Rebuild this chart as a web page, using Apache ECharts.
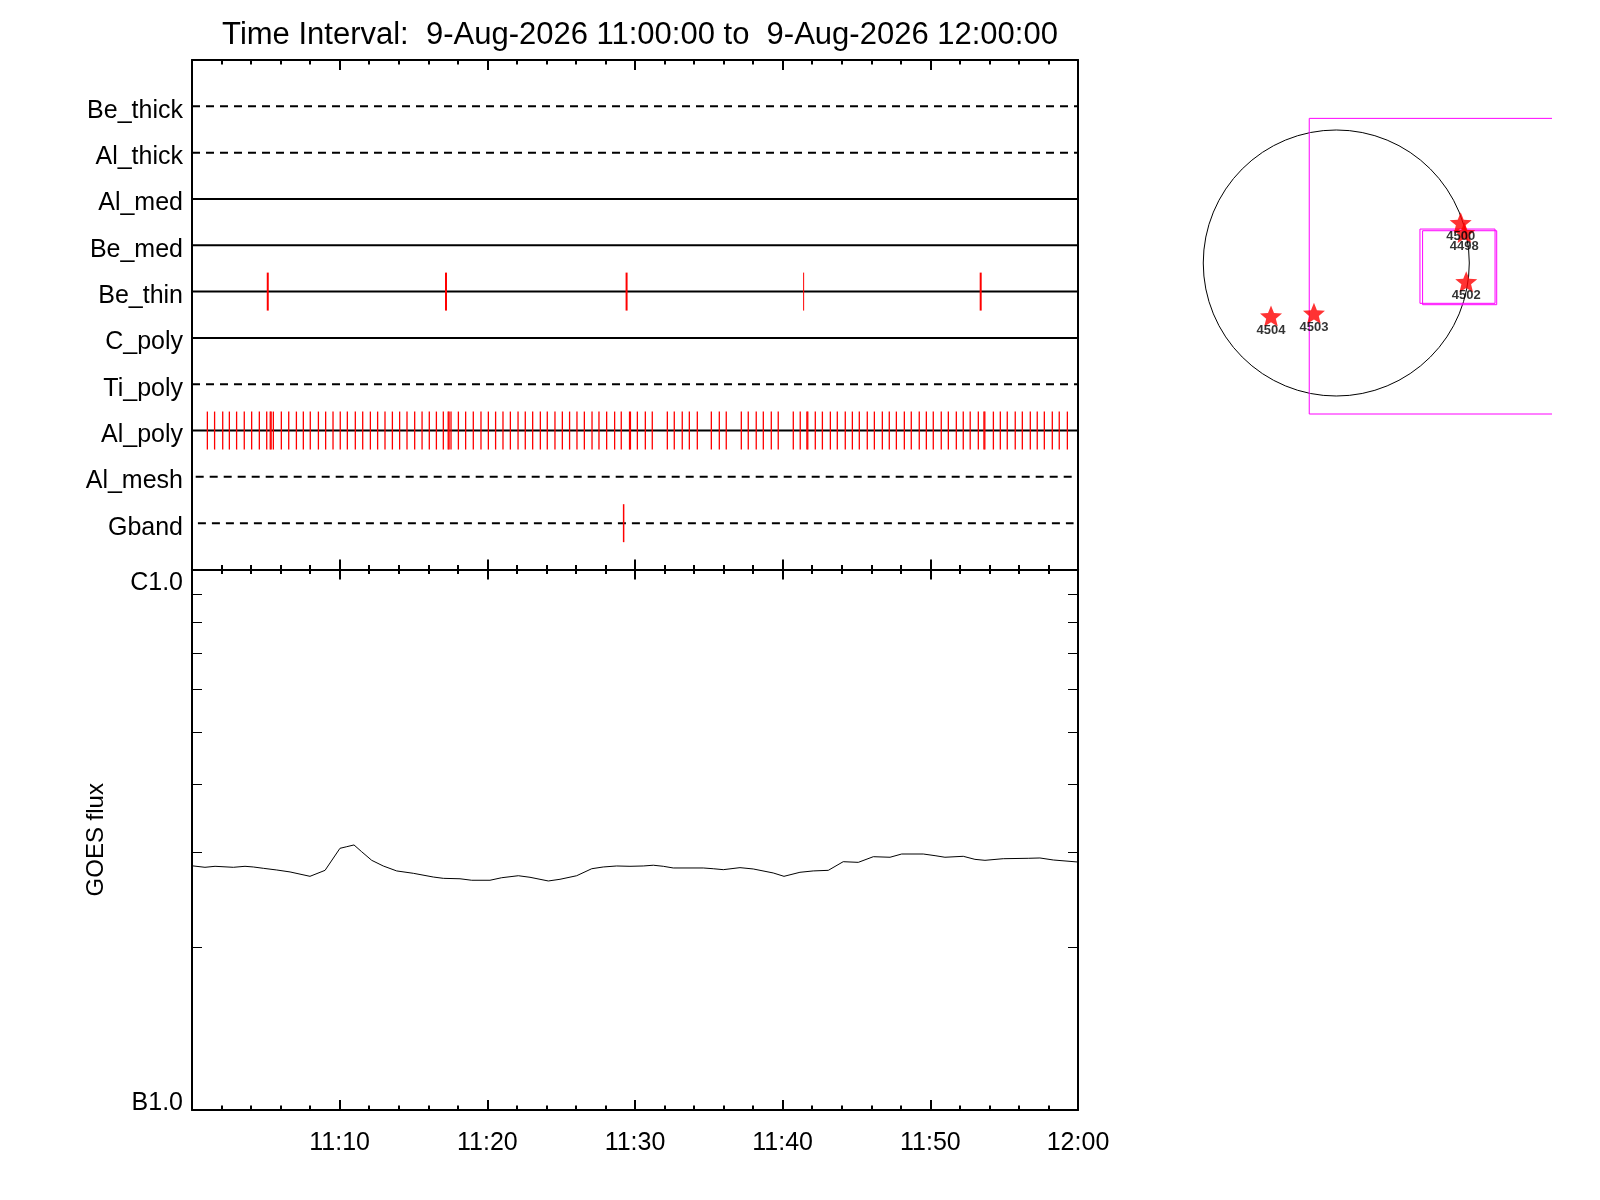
<!DOCTYPE html>
<html lang="en">

<head>
  <meta charset="utf-8">
  <title>Filter exposures and GOES flux</title>
  <style>
    * {
      margin: 0;
      padding: 0;
    }

    body {
      background: #fff;
    }

    #chart-container {
      width: 1600px;
      height: 1200px;
    }
  </style>
</head>

<body>
  <div id="chart-container"></div>
  <script src="https://fastly.jsdelivr.net/npm/echarts@6/dist/echarts.min.js"></script>
  <script>
    // time is in minutes after 11:00:00
    const titleText = 'Time Interval:  9-Aug-2026 11:00:00 to  9-Aug-2026 12:00:00';
    const tickLabels = ['11:00', '11:10', '11:20', '11:30', '11:40', '11:50', '12:00'];

    const rowNames = ['Be_thick', 'Al_thick', 'Al_med', 'Be_med', 'Be_thin', 'C_poly', 'Ti_poly', 'Al_poly', 'Al_mesh', 'Gband'];
    const rowDashed = [true, true, false, false, false, false, true, false, true, true];
    const rowStart = [0, 0, 0, 0, 0, 0, 0, 0, 0.25, 0.4];
    const rowEnd = [60, 60, 60, 60, 60, 60, 60, 60, 60, 59.7];

    const beThinTimes = [5.13, 17.20, 29.43, 41.42, 53.41];
    const beThinWidths = [2, 2, 2, 1, 2];
    const gbandTimes = [29.23];
    const alPolyTimes = [
      1.04, 1.53, 2.08, 2.53, 3.02, 3.54, 4.04, 4.56, 5.06, 5.30, 5.36, 5.51,
      6.05, 6.55, 7.07, 7.54, 8.01, 8.56, 9.05, 9.55, 10.04, 10.52, 11.06, 11.56,
      12.08, 12.57, 13.07, 13.57, 14.06, 14.56, 15.08, 15.58, 16.07, 16.55, 17.02,
      17.35, 17.41, 17.54, 18.04, 18.53, 19.05, 19.57, 20.07, 20.56, 21.06, 21.56,
      22.08, 22.57, 23.07, 23.59, 24.06, 24.58, 25.08, 25.57, 26.07, 26.57, 27.09,
      27.56, 28.08, 28.62, 29.07, 29.63, 29.69, 30.16, 30.70, 31.17,
      32.19, 32.66, 33.20, 33.68, 34.22,
      35.17, 35.71, 36.18,
      37.20, 37.67, 38.21, 38.69, 39.23, 39.70,
      40.72, 41.19, 41.64, 41.70, 42.21, 42.69, 43.23, 43.70, 44.24, 44.72, 45.19,
      45.73, 46.21, 46.75, 47.22, 47.70, 48.24, 48.71, 49.25, 49.73, 50.20, 50.74,
      51.22, 51.76, 52.23, 52.70, 53.25, 53.63, 53.69, 54.27, 54.74, 55.21, 55.75,
      56.23, 56.77, 57.24, 57.72, 58.26, 58.73, 59.28
    ];

    const goesTimes = [
      0.00, 0.88, 1.56, 2.80, 3.59, 4.15, 4.83, 5.74, 6.64, 7.99, 9.01, 10.02,
      10.48, 10.97, 11.49, 12.17, 12.95, 13.86, 14.99, 16.34, 17.02, 18.15, 18.94,
      20.18, 20.97, 22.10, 22.89, 24.13, 24.92, 26.05, 27.07, 27.85, 28.76, 29.66,
      30.56, 31.24, 31.92, 32.59, 34.62, 35.30, 35.98, 37.11, 38.01, 39.36, 40.09,
      41.17, 42.07, 43.09, 44.10, 45.12, 46.14, 47.27, 48.06, 49.52, 50.32, 50.99,
      52.23, 53.02, 53.70, 54.94, 56.63, 57.42, 58.33, 59.46, 60.00
    ];
    // flux in units of 1e-6 W/m^2
    const goesFlux = [
      0.2830, 0.2812, 0.2824, 0.2812, 0.2824, 0.2816, 0.2800, 0.2780, 0.2757, 0.2706,
      0.2776, 0.3049, 0.3070, 0.3093, 0.3005, 0.2897, 0.2828, 0.2769, 0.2741, 0.2698,
      0.2683, 0.2678, 0.2661, 0.2661, 0.2690, 0.2713, 0.2695, 0.2653, 0.2672, 0.2713,
      0.2795, 0.2816, 0.2828, 0.2824, 0.2828, 0.2837, 0.2824, 0.2804, 0.2804, 0.2795,
      0.2784, 0.2808, 0.2792, 0.2745, 0.2706, 0.2753, 0.2769, 0.2776, 0.2880, 0.2872,
      0.2942, 0.2935, 0.2976, 0.2976, 0.2955, 0.2935, 0.2947, 0.2909, 0.2897, 0.2917,
      0.2922, 0.2926, 0.2901, 0.2884, 0.2876
    ];
    const fluxLabelValues = [1e-7, 1e-6];
    const fluxLabelText = ['B1.0', 'C1.0'];
    const fluxMinorTicks = [2e-7, 3e-7, 4e-7, 5e-7, 6e-7, 7e-7, 8e-7, 9e-7];

    // solar disk map, arcsec
    const diskRadius = 960;
    const boxX1 = [-195, 604, 623];
    const boxY1 = [1044, 245, 233];
    const boxX2 = [1700, 1146, 1158];
    const boxY2 = [-1090, -291, -301];
    const arNames = ['4500', '4498', '4502', '4503', '4504'];
    const arX = [898, 924, 938, -161, -471];
    const arY = [291, 219, -135, -363, -383];

    const FONT = 'Liberation Sans';
    const STAR = 'path://M50,0 L62.9,32.2 L97.6,34.5 L70.9,56.8 L79.4,90.5 L50,72 L20.6,90.5 L29.1,56.8 L2.4,34.5 L37.1,32.2 Z';

    var dom = document.getElementById('chart-container');
    var myChart = echarts.init(dom, null, { renderer: 'canvas' });

    function tickSeries(times, row, widths) {
      return {
        type: 'custom',
        xAxisIndex: 0,
        yAxisIndex: 0,
        silent: true,
        z: 5,
        data: times.map(function (t, i) { return [t, row, widths ? widths[i] : 1.3]; }),
        renderItem: function (params, api) {
          var p1 = api.coord([api.value(0), api.value(1) - 0.41]);
          var p2 = api.coord([api.value(0), api.value(1) + 0.41]);
          return {
            type: 'line',
            shape: { x1: p1[0], y1: p1[1], x2: p2[0], y2: p2[1] },
            style: { stroke: '#ff0000', lineWidth: api.value(2) }
          };
        }
      };
    }

    var rowSeries = rowNames.map(function (name, i) {
      return {
        type: 'line',
        name: name,
        xAxisIndex: 0,
        yAxisIndex: 0,
        symbol: 'none',
        silent: true,
        lineStyle: { color: '#000', width: 2, type: rowDashed[i] ? [8, 6] : 'solid' },
        data: [[rowStart[i], i + 1], [rowEnd[i], i + 1]]
      };
    });

    var timeTick = {
      show: true, inside: true, length: 10,
      lineStyle: { color: '#000', width: 2 }
    };
    var timeMinor = {
      show: true, splitNumber: 5, length: 4.5,
      lineStyle: { color: '#000', width: 2 }
    };
    var blackLine = { show: true, onZero: false, lineStyle: { color: '#000', width: 2 } };

    function timeAxis(grid, pos, labels) {
      return {
        type: 'value', gridIndex: grid, position: pos,
        min: 0, max: 60, interval: 10,
        axisLine: blackLine, axisTick: timeTick, minorTick: timeMinor,
        splitLine: { show: false }, minorSplitLine: { show: false },
        axisLabel: labels ? {
          show: true, fontFamily: FONT, fontSize: 25, color: '#000', margin: 21,
          showMinLabel: false,
          formatter: function (v) { return tickLabels[Math.round(v / 10)]; }
        } : { show: false }
      };
    }

    function fluxAxis(pos, labels) {
      return {
        type: 'log', logBase: 10, gridIndex: 1, position: pos,
        min: 1e-7, max: 1e-6,
        axisLine: blackLine,
        axisTick: {
          show: true, inside: true, length: 10, customValues: fluxMinorTicks,
          lineStyle: { color: '#000', width: 1 }
        },
        splitLine: { show: false },
        name: labels ? 'GOES flux' : '',
        nameLocation: 'middle',
        nameGap: 84,
        nameTextStyle: { fontFamily: FONT, fontSize: 24, color: '#000' },
        axisLabel: labels ? {
          show: true, fontFamily: FONT, fontSize: 25, color: '#000', margin: 9,
          customValues: fluxLabelValues,
          rich: {
            lo: { fontFamily: FONT, fontSize: 25, color: '#000', padding: [0, 0, 14, 0] },
            hi: { fontFamily: FONT, fontSize: 25, color: '#000', padding: [27, 0, 0, 0] }
          },
          formatter: function (v) {
            var i = fluxLabelValues.findIndex(function (f) { return Math.abs(f - v) / f < 1e-6; });
            if (i < 0) return '';
            return '{' + (i === 0 ? 'lo' : 'hi') + '|' + fluxLabelText[i] + '}';
          }
        } : { show: false }
      };
    }

    var option = {
      animation: false,
      backgroundColor: '#fff',
      title: {
        text: titleText,
        left: 635,
        top: 15,
        textAlign: 'center',
        textStyle: { fontFamily: FONT, fontSize: 31, fontWeight: 'normal', color: '#000' }
      },
      grid: [
        { left: 192, top: 60, width: 886, height: 509.5, outerBoundsMode: 'none' },
        { left: 192, top: 569.5, width: 886, height: 540.5, outerBoundsMode: 'none' },
        { left: 1170, top: 96.75, width: 382, height: 332.5, outerBoundsMode: 'none' }
      ],
      xAxis: [
        timeAxis(0, 'bottom', false),
        timeAxis(0, 'top', false),
        timeAxis(1, 'bottom', true),
        timeAxis(1, 'top', false),
        { type: 'value', gridIndex: 2, min: -1200, max: 1557, show: false }
      ],
      yAxis: [
        {
          type: 'value', gridIndex: 0, position: 'left',
          min: 0, max: 11, interval: 1, inverse: true,
          axisLine: blackLine, axisTick: { show: false }, splitLine: { show: false },
          axisLabel: {
            fontFamily: FONT, fontSize: 25, color: '#000', margin: 9,
            rich: {
              r: { fontFamily: FONT, fontSize: 25, color: '#000', padding: [9, 0, 0, 0] }
            },
            formatter: function (v) { return rowNames[v - 1] ? '{r|' + rowNames[v - 1] + '}' : ''; }
          }
        },
        {
          type: 'value', gridIndex: 0, position: 'right',
          min: 0, max: 11, inverse: true,
          axisLine: blackLine, axisTick: { show: false }, splitLine: { show: false },
          axisLabel: { show: false }
        },
        fluxAxis('left', true),
        fluxAxis('right', false),
        { type: 'value', gridIndex: 2, min: -1200, max: 1200, show: false }
      ],
      series: rowSeries.concat([
        tickSeries(beThinTimes, 5, beThinWidths),
        tickSeries(alPolyTimes, 8),
        tickSeries(gbandTimes, 10, [1.5]),
        {
          type: 'line',
          name: 'GOES',
          xAxisIndex: 2,
          yAxisIndex: 2,
          symbol: 'none',
          silent: true,
          lineStyle: { color: '#000', width: 1 },
          data: goesTimes.map(function (t, i) { return [t, goesFlux[i] * 1e-6]; })
        },
        {
          type: 'custom',
          xAxisIndex: 4,
          yAxisIndex: 4,
          silent: true,
          data: [[0, 0, diskRadius]],
          renderItem: function (params, api) {
            var c = api.coord([api.value(0), api.value(1)]);
            var r = api.size([api.value(2), 0])[0];
            return {
              type: 'circle',
              shape: { cx: c[0], cy: c[1], r: r },
              style: { fill: 'none', stroke: '#000', lineWidth: 1 }
            };
          }
        },
        {
          type: 'custom',
          xAxisIndex: 4,
          yAxisIndex: 4,
          silent: true,
          clip: true,
          data: boxX1.map(function (x, i) { return [x, boxY1[i], boxX2[i], boxY2[i]]; }),
          renderItem: function (params, api) {
            var p1 = api.coord([api.value(0), api.value(1)]);
            var p2 = api.coord([api.value(2), api.value(3)]);
            return {
              type: 'rect',
              shape: {
                x: Math.min(p1[0], p2[0]), y: Math.min(p1[1], p2[1]),
                width: Math.abs(p2[0] - p1[0]), height: Math.abs(p2[1] - p1[1])
              },
              style: { fill: 'none', stroke: '#ff00ff', lineWidth: 1 }
            };
          }
        },
        {
          type: 'scatter',
          xAxisIndex: 4,
          yAxisIndex: 4,
          silent: true,
          symbol: STAR,
          symbolSize: 22,
          symbolKeepAspect: true,
          itemStyle: { color: '#ff0000' },
          label: {
            show: true, position: 'bottom', distance: -3,
            fontFamily: FONT, fontSize: 13, fontWeight: 'bold', color: '#000',
            formatter: function (p) { return p.name; }
          },
          data: arNames.map(function (n, i) { return { name: n, value: [arX[i], arY[i]] }; })
        }
      ])
    };

    myChart.setOption(option);

    window.addEventListener('resize', myChart.resize);
  </script>
</body>

</html>
